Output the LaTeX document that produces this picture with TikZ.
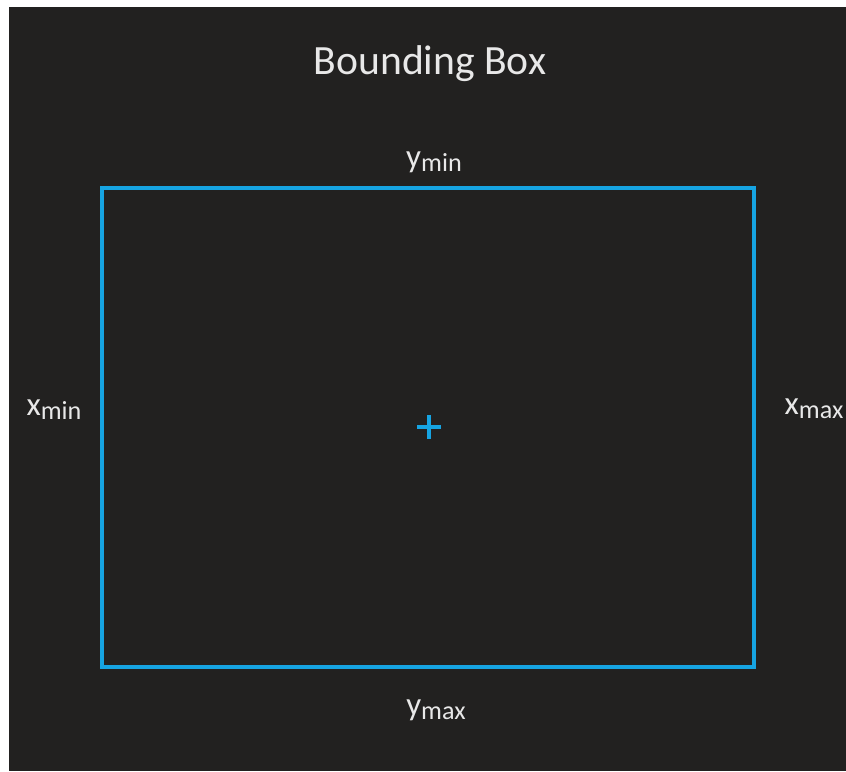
\documentclass[tikz,border=0pt]{standalone}
\usepackage{fontspec}
\setmainfont{Carlito}
\usetikzlibrary{positioning}
\definecolor{bgDark}{RGB}{34,33,32}
\definecolor{boxBlue}{RGB}{22,164,226}
\definecolor{txtLight}{RGB}{232,232,232}
\newcommand{\bbsub}[2]{{\fontsize{23.4}{24}\selectfont #1}\raisebox{-3.5pt}{\fontsize{18.6}{20}\selectfont #2}}
\tikzset{
    % Shapes
    bbox/.style={rectangle, draw=boxBlue, line width=2.4pt, minimum width=16.3cm, minimum height=11.975cm, inner sep=0pt},
    % Labels
    lbl/.style={text=txtLight, inner sep=0pt, anchor=base},
    ttl/.style={text=txtLight, inner sep=0pt, font=\fontsize{29.6}{31}\selectfont}
}
\begin{document}
\begin{tikzpicture}[x=0.025cm, y=-0.025cm]

% page and dark panel
\fill[white] (0,0) rectangle (846,771);
\fill[bgDark] (9,7) rectangle (846,771);
\useasboundingbox (0,0) rectangle (846,771);

\node[bbox] (bb) at (428,427.5) {};
\coordinate (ctr) at (429,427);
\draw[boxBlue, line width=2.2pt] ([xshift=-12*0.025cm]ctr) -- ([xshift=12*0.025cm]ctr)
      ([yshift=-12*0.025cm]ctr) -- ([yshift=12*0.025cm]ctr);

\node[ttl] (title) at (430,64) {Bounding Box};

\node[lbl] (ymin) at (434,167) {\bbsub{y}{min}};
\node[lbl] (ymax) at (436,715) {\bbsub{y}{max}};
\node[lbl] (xmin) at (54,415) {\bbsub{x}{min}};
\node[lbl] (xmax) at (814,414) {\bbsub{x}{max}};

\end{tikzpicture}
\end{document}
